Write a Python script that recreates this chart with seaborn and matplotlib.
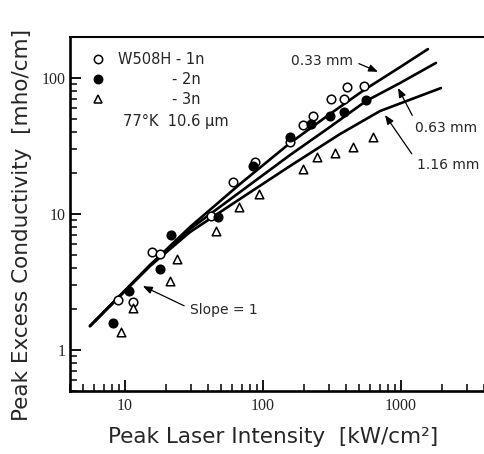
import matplotlib
matplotlib.use("Agg")
import matplotlib.pyplot as plt
import seaborn as sns
from matplotlib.ticker import LogLocator, FuncFormatter, NullFormatter

# Measured peak excess conductivity (mho/cm) vs peak laser intensity (kW/cm^2)
# Sample W508H, 77 K, 10.6 um
int_1n = [8.9, 11.4, 15.7, 17.9, 42.0, 60.7, 87.6, 157, 195, 231, 311, 387, 407, 540]
sig_1n = [2.33, 2.25, 5.25, 5.07, 9.66, 17.2, 24.1, 33.8, 45.1, 52.5, 70.0, 70.0, 85.8, 87.3]
int_2n = [8.2, 10.7, 17.9, 21.6, 47.2, 84.8, 157, 223, 306, 387, 558]
sig_2n = [1.58, 2.71, 3.94, 7.0, 9.49, 22.5, 36.8, 45.8, 52.5, 56.2, 68.8]
int_3n = [9.4, 11.5, 21.2, 23.8, 45.7, 67.1, 93.7, 195, 247, 333, 449, 628]
sig_3n = [1.36, 2.03, 3.21, 4.67, 7.5, 11.2, 14.0, 21.4, 26.2, 28.1, 31.1, 36.8]

# Calculated curves for three sample thicknesses
curve_033_int = [5.58, 15.2, 29.6, 68.2, 157, 306, 540, 985, 1570]
curve_033_sig = [1.50, 4.21, 8.02, 16.6, 33.2, 54.3, 81.5, 120, 163]
curve_063_int = [5.58, 15.2, 29.6, 68.2, 157, 306, 558, 985, 1795]
curve_063_sig = [1.50, 4.21, 7.75, 14.5, 27.1, 43.6, 67.6, 91.8, 129]
curve_116_int = [5.58, 15.2, 29.6, 68.2, 157, 362, 705, 1950]
curve_116_sig = [1.50, 4.14, 7.36, 12.9, 22.5, 38.7, 57.1, 84.3]

sns.set_style("ticks")
plt.rcParams["font.family"] = ["DejaVu Sans"]

W, H = 484, 454
fig = plt.figure(figsize=(W / 100, H / 100), dpi=100)
ax = fig.add_axes([70 / W, 1 - 391 / H, 1 - 70 / W, (391 - 37) / H])
ax.set_xscale("log")
ax.set_yscale("log")

for xs, ys in [(curve_033_int, curve_033_sig),
               (curve_063_int, curve_063_sig),
               (curve_116_int, curve_116_sig)]:
    sns.lineplot(x=xs, y=ys, ax=ax, color="black", lw=1.9, sort=False,
                 estimator=None, zorder=2)

pts_kw = dict(s=38, edgecolor="black", linewidth=1.1, zorder=3)
sns.scatterplot(x=int_1n, y=sig_1n, ax=ax, marker="o", facecolor="white", **pts_kw)
sns.scatterplot(x=int_2n, y=sig_2n, ax=ax, marker="o", facecolor="black", **pts_kw)
sns.scatterplot(x=int_3n, y=sig_3n, ax=ax, marker="^", facecolor="white", **pts_kw)

ax.set_xlim(4, 4000)
ax.set_ylim(0.5, 200)

# key
h1 = plt.Line2D([], [], ls="none", marker="o", ms=6, mfc="white", mec="black", mew=1.1)
h2 = plt.Line2D([], [], ls="none", marker="o", ms=6, mfc="black", mec="black", mew=1.1)
h3 = plt.Line2D([], [], ls="none", marker="^", ms=6, mfc="white", mec="black", mew=1.1)
leg = ax.legend([h1, h2, h3], ["W508H - 1n", "- 2n", "- 3n"], loc="upper left",
                bbox_to_anchor=(0.050, 0.958), frameon=False, borderpad=0,
                borderaxespad=0, handlelength=1.0, handletextpad=0.87,
                labelspacing=0.36, prop={"size": 10.5})
rows = leg._legend_handle_box.get_children()[0].get_children()
for r in rows[1:]:
    r.sep += 38.9

ax.text(0.128, 0.760, "77°K  10.6 μm", transform=ax.transAxes,
        fontsize=10.5, va="center", ha="left")

# curve labels and arrows
arrow = dict(arrowstyle="-|>,head_length=0.55,head_width=0.22", color="black",
             lw=0.9, shrinkA=2, shrinkB=0)
lab_kw = dict(fontsize=10, va="center")
ax.annotate("0.33 mm", xy=(682, 111), xytext=(450, 133), ha="right",
            arrowprops=dict(arrow, relpos=(1.0, 0.5)), **lab_kw)
ax.annotate("0.63 mm", xy=(953, 84.3), xytext=(1270, 42.8), ha="left",
            arrowprops=dict(arrow, relpos=(0.0, 1.0)), **lab_kw)
ax.annotate("1.16 mm", xy=(767, 53.4), xytext=(1300, 22.9), ha="left",
            arrowprops=dict(arrow, relpos=(0.0, 0.8)), **lab_kw)
ax.annotate("Slope = 1", xy=(13.5, 2.95), xytext=(29.6, 1.97), ha="left",
            arrowprops=dict(arrow, relpos=(0.0, 0.6)), **lab_kw)

# axes styling
for side, lw in [("left", 1.9), ("bottom", 1.9), ("top", 1.5)]:
    ax.spines[side].set_linewidth(lw)
    ax.spines[side].set_color("black")
ax.spines["right"].set_visible(False)

fmt = FuncFormatter(lambda v, p: f"{v:g}")
for axis in (ax.xaxis, ax.yaxis):
    axis.set_major_locator(LogLocator(base=10))
    axis.set_minor_locator(LogLocator(base=10, subs=range(2, 10)))
    axis.set_major_formatter(fmt)
    axis.set_minor_formatter(NullFormatter())
ax.tick_params(which="both", direction="in", top=False, right=False,
               color="black", labelfontfamily="Liberation Serif", labelsize=11.5)
ax.tick_params(which="major", length=8, width=1.3, pad=5)
ax.tick_params(which="minor", length=5, width=1.1)
ax.tick_params(axis="y", which="major", pad=3)

fig.text(273 / W, 1 - 437 / H, "Peak Laser Intensity  [kW/cm²]",
         fontsize=15.5, ha="center", va="center")
fig.text(22 / W, 1 - 225 / H, "Peak Excess Conductivity  [mho/cm]",
         fontsize=15.5, ha="center", va="center", rotation=90)

fig.savefig("out.png", dpi=100, facecolor="white")
